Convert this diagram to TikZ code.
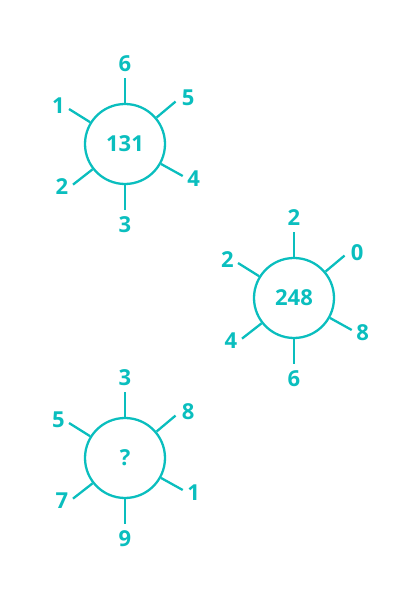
\documentclass[tikz,border=0pt]{standalone}
\usepackage{fontspec}
\setmainfont{Open Sans}
\usetikzlibrary{calc}
\definecolor{tealc}{RGB}{10,190,190}
\begin{document}
\begin{tikzpicture}[x=1pt,y=1pt,
  hub/.style={circle,draw=tealc,line width=2.3pt,minimum size=80pt,inner sep=0pt,text=tealc,font=\bfseries\fontsize{22}{22}\selectfont},
  num/.style={text=tealc,inner sep=0pt,font=\bfseries\fontsize{22}{22}\selectfont},
  spk/.style={draw=tealc,line width=2.3pt}]
\useasboundingbox (0,0) rectangle (420,594);
\node[hub] (A) at (125,450) {131};
\node[hub] (B) at (294,296) {248};
\node[hub] (C) at (125,136) {?};
\foreach \c in {A,B,C} {
  \foreach \sa [count=\k] in {90, 40, -29, -90, 218, 148} {
    \coordinate (\c-s\k) at ($(\c)+(\sa:66)$);
    \draw[spk] (\c.\sa) -- (\c-s\k);
  }
}
\foreach \c/\a/\b/\d/\e/\f/\g in {A/6/5/4/3/2/1, B/2/0/8/6/4/2, C/3/8/1/9/7/5} {
  \node[num] (\c-t1) at ($(\c)+(90:80)$) {\a};
  \node[num] (\c-t2) at ($(\c)+(36:78)$) {\b};
  \node[num] (\c-t3) at ($(\c)+(-27:77)$) {\d};
  \node[num] (\c-t4) at ($(\c)+(-90:81)$) {\e};
  \node[num] (\c-t5) at ($(\c)+(214:76)$) {\f};
  \node[num] (\c-t6) at ($(\c)+(150:77)$) {\g};
}
\end{tikzpicture}
\end{document}
